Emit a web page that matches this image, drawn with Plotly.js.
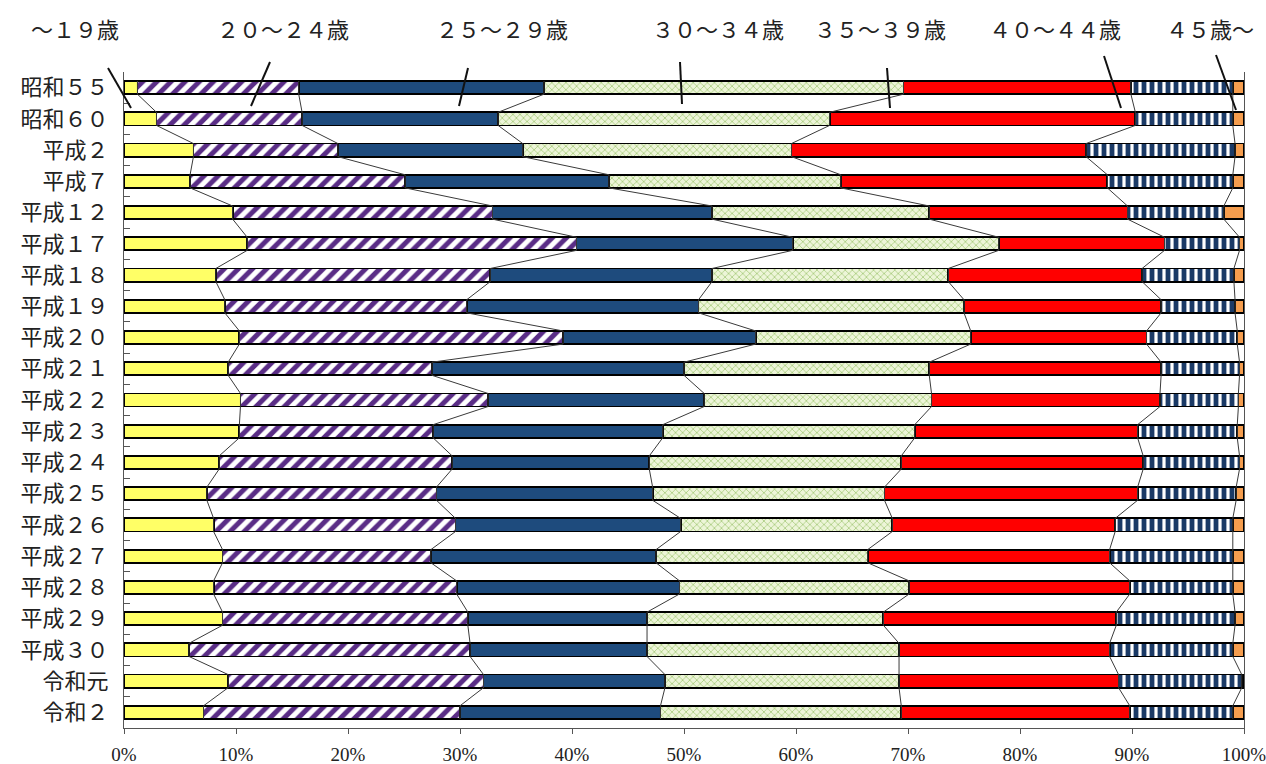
<!DOCTYPE html>
<html>
<head>
<meta charset="utf-8">
<script src="https://cdn.plot.ly/plotly-3.0.1.min.js"></script>
<style>
  html, body { margin: 0; padding: 0; background: #fff; }
  #chart { width: 1266px; height: 764px; }
</style>
</head>
<body>
<div id="chart"></div>
<script>
// ---- data (percent shares per year) ----
const years = ['昭和５５','昭和６０','平成２','平成７','平成１２','平成１７','平成１８','平成１９','平成２０','平成２１','平成２２','平成２３','平成２４','平成２５','平成２６','平成２７','平成２８','平成２９','平成３０','令和元','令和２'];
const groupNames = ['～１９歳','２０～２４歳','２５～２９歳','３０～３４歳','３５～３９歳','４０～４４歳','４５歳～'];
const age19    = [1.2,2.9,6.2,5.9,9.7,11.0,8.2,9.0,10.3,9.3,10.4,10.3,8.5,7.4,8.0,8.8,8.0,8.8,5.8,9.3,7.1];
const age20_24 = [14.4,13.0,12.9,19.2,23.2,29.4,24.5,21.6,28.9,18.2,22.1,17.3,20.8,20.5,21.6,18.6,21.7,21.9,25.1,22.8,22.9];
const age25_29 = [21.9,17.5,16.5,18.2,19.6,19.3,19.8,20.7,17.2,22.5,19.3,20.5,17.6,19.3,20.1,20.1,19.9,16.0,15.8,16.2,17.9];
const age30_34 = [32.1,29.6,24.0,20.7,19.4,18.4,21.1,23.7,19.2,21.9,20.3,22.5,22.5,20.7,18.9,18.9,20.5,21.1,22.5,20.9,21.5];
const age35_39 = [20.3,27.3,26.3,23.8,17.7,14.8,17.3,17.6,15.7,20.7,20.4,19.9,21.6,22.6,19.9,21.6,19.7,20.8,18.8,19.6,20.4];
const age40_44 = [9.1,8.7,13.3,11.2,8.6,6.7,8.2,6.6,8.1,7.0,7.0,8.9,8.6,8.8,10.5,11.0,9.2,10.6,11.0,11.0,9.2];
const age45    = [1.0,1.0,0.8,1.0,1.8,0.4,0.9,0.8,0.6,0.4,0.5,0.6,0.4,0.7,1.0,1.0,1.0,0.8,1.0,0.2,1.0];
const xTickVals = [0,10,20,30,40,50,60,70,80,90,100];
const xTickText = ['0%','10%','20%','30%','40%','50%','60%','70%','80%','90%','100%'];

// ---- styling ----
const series = [age19, age20_24, age25_29, age30_34, age35_39, age40_44, age45];
const styles = [
  {color:'#FFFF66'},
  {color:'#FFFFFF', pattern:{shape:'/', fgcolor:'#5A2D86', bgcolor:'#FFFFFF', size:10, solidity:0.5}},
  {color:'#1E4B7D'},
  {color:'#EDF5D8', pattern:{shape:'x', fgcolor:'#9CC46E', bgcolor:'#EDF5D8', size:5, solidity:0.25}},
  {color:'#FF0000'},
  {color:'#FFFFFF', pattern:{shape:'|', fgcolor:'#1B3A66', bgcolor:'#FFFFFF', size:8, solidity:0.6}},
  {color:'#F59D4E'}
];
const BW = 0.42;
const yIdx = years.map((_, i) => i);
const yMinor = [-0.5].concat(years.map((_, i) => i + 0.5));

// normalize rows to 100
const totals = yIdx.map(i => series.reduce((s, a) => s + a[i], 0));
const norm = series.map(a => a.map((v, i) => v / totals[i] * 100));

const traces = [];
norm.forEach((vals, k) => {
  const marker = {color: styles[k].color, line: {color:'#000', width:1.8}};
  if (styles[k].pattern) marker.pattern = Object.assign({fillmode:'replace'}, styles[k].pattern);
  traces.push({
    type:'bar', orientation:'h', y: yIdx, x: vals, width: BW,
    name: groupNames[k], marker: marker, hoverinfo:'x+name'
  });
});

// series lines between bars, from cumulative boundaries
for (let k = 0; k < 6; k++) {
  const xs = [], ys = [];
  yIdx.forEach(i => {
    let c = 0;
    for (let j = 0; j <= k; j++) c += norm[j][i];
    xs.push(c, c); ys.push(i - BW/2, i + BW/2);
  });
  traces.push({type:'scatter', mode:'lines', x: xs, y: ys,
    line:{color:'#3a3a3a', width:1}, hoverinfo:'skip', showlegend:false});
}

// leader lines & labels (positions in pixels converted to paper)
const L = 124, T = 72, W = 1120, H = 656;
const px = x => (x - L) / W;
const py = y => (T + H - y) / H;
const labelX = [75, 283, 502, 718, 880, 1055, 1210];
const leaders = [
  [108,68,131,108],[270,62,251,106],[468,68,459,106],[680,62,682,104],
  [887,68,890,108],[1104,56,1121,108],[1216,55,1236,110]
];
const annotations = groupNames.map((t, k) => ({
  text: t, xref:'paper', yref:'paper', x: px(labelX[k]), y: py(28),
  xanchor:'center', yanchor:'middle', showarrow:false,
  font:{family:'Noto Sans CJK JP', size:22, color:'#222'}
}));
const shapes = leaders.map(s => ({
  type:'line', xref:'paper', yref:'paper',
  x0: px(s[0]), y0: py(s[1]), x1: px(s[2]), y1: py(s[3]),
  line:{color:'#111', width:2}
}));

const layout = {
  width:1266, height:764,
  margin:{l:L, r:1266-L-W, t:T, b:764-T-H},
  paper_bgcolor:'#fff', plot_bgcolor:'#fff',
  barmode:'stack', showlegend:false,
  font:{family:'Noto Sans CJK JP', color:'#222'},
  xaxis:{range:[0,100], tickvals:xTickVals, ticktext:xTickText, ticks:'outside', ticklen:5,
    tickcolor:'#555', showgrid:false, zeroline:false, showline:true, linecolor:'#555', linewidth:1,
    ticklabeloverflow:'allow', ticklabelstandoff:4,
    tickfont:{family:'Liberation Serif', size:19, color:'#222'}, fixedrange:true},
  yaxis:{range:[20.5,-0.5], tickvals:yIdx, ticktext:years, ticks:'inside', ticklen:0, showgrid:false, zeroline:false,
    showline:true, mirror:true, linecolor:'#555', linewidth:1, ticklabelstandoff:10,
    tickfont:{family:'Noto Sans CJK JP', size:22, color:'#222'},
    minor:{tickmode:'array', tickvals:yMinor, ticks:'inside', ticklen:6, tickcolor:'#555', showgrid:false},
    fixedrange:true},
  annotations: annotations,
  shapes: shapes
};

Plotly.newPlot('chart', traces, layout, {displayModeBar:false, staticPlot:true});
</script>
</body>
</html>
